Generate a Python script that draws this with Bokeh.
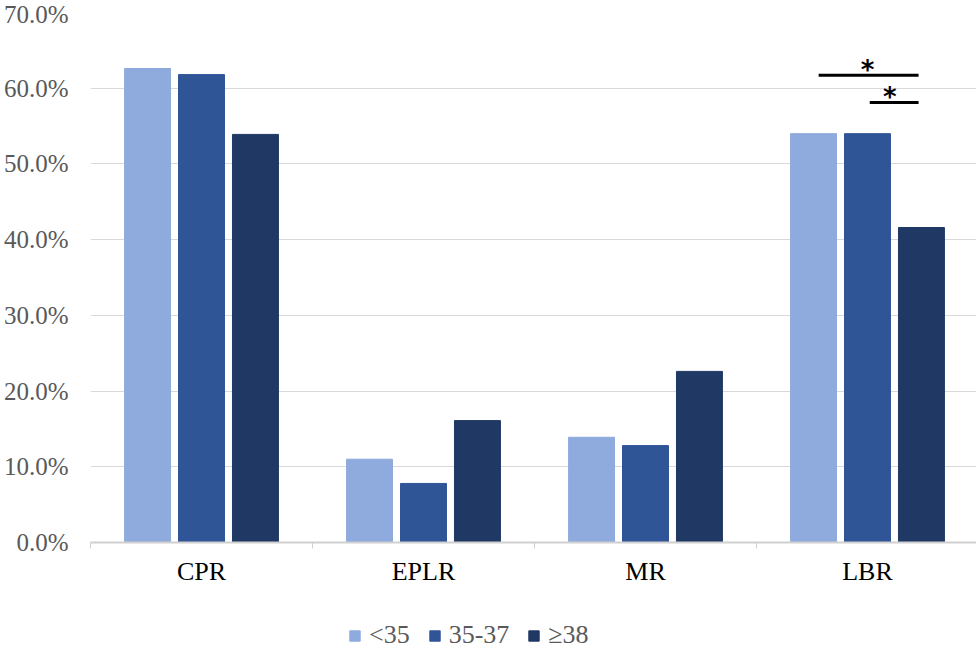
from bokeh.plotting import figure
from bokeh.layouts import column
from bokeh.models import ColumnDataSource, FixedTicker, PrintfTickFormatter, Legend, LegendItem, Range1d
from bokeh.transform import dodge
from bokeh.core.properties import value
from bokeh.embed import file_html
from bokeh.resources import INLINE

# ---- data ----
categories = ["CPR", "EPLR", "MR", "LBR"]
cat_pos = [0.5, 1.5, 2.5, 3.5]
lt35 = [62.6, 11.0, 13.9, 54.0]
age35_37 = [61.8, 7.8, 12.8, 54.0]
ge38 = [53.9, 16.1, 22.6, 41.6]
series_labels = ["<35", "35-37", "\u226538"]
colors = ["#8faadc", "#2f5597", "#1f3864"]
y_ticks = [0, 10, 20, 30, 40, 50, 60, 70]

# significance brackets (LBR)
sig_x0 = [3.28, 3.51]
sig_x1 = [3.73, 3.73]
sig_y = [61.7, 58.1]
star_x = [3.50, 3.60]
star_text = ["*", "*"]

src = ColumnDataSource(dict(x=cat_pos, a=lt35, b=age35_37, c=ge38))

p = figure(width=976, height=610, min_border_left=90, min_border_right=0,
           min_border_top=12, min_border_bottom=68,
           x_range=Range1d(0, 886 / 222), y_range=Range1d(0, 70),
           output_backend="svg", toolbar_location=None)
p.outline_line_color = None
p.background_fill_color = "white"
p.border_fill_color = "white"

off = 0.243
w = 0.207
r1 = p.vbar(x=dodge("x", -off, range=p.x_range), top="a", width=w, source=src, color=colors[0])
r2 = p.vbar(x=dodge("x", 0, range=p.x_range), top="b", width=w, source=src, color=colors[1])
r3 = p.vbar(x=dodge("x", off, range=p.x_range), top="c", width=w, source=src, color=colors[2])

# significance lines and stars
p.segment(x0=sig_x0, x1=sig_x1, y0=sig_y, y1=sig_y, line_color="black", line_width=3)
p.text(x=star_x, y=[v + 0.75 for v in sig_y], text=star_text, text_align="center",
       text_baseline="alphabetic", text_font=value("DejaVu Sans"), text_font_style="bold",
       text_font_size="26px", text_color="black")

# y axis
p.yaxis.ticker = FixedTicker(ticks=y_ticks)
p.yaxis.formatter = PrintfTickFormatter(format="%.1f%%")
p.yaxis.axis_line_color = None
p.yaxis.major_tick_line_color = None
p.yaxis.minor_tick_line_color = None
p.yaxis.major_label_standoff = 16
p.yaxis.major_label_text_font = "Liberation Serif"
p.yaxis.major_label_text_font_size = "25px"
p.yaxis.major_label_text_color = "#595959"

# x axis
p.xaxis.ticker = FixedTicker(ticks=cat_pos, minor_ticks=[0, 1, 2, 3, 4])
p.xaxis.major_label_overrides = {c: n for c, n in zip(cat_pos, categories)}
p.xaxis.axis_line_color = "#d0d0d0"
p.xaxis.axis_line_width = 2
p.xaxis.major_tick_line_color = None
p.xaxis.minor_tick_line_color = "#d0d0d0"
p.xaxis.minor_tick_out = 6
p.xaxis.minor_tick_in = 0
p.xaxis.major_label_standoff = 8
p.xaxis.major_label_text_font = "Liberation Serif"
p.xaxis.major_label_text_font_size = "26px"
p.xaxis.major_label_text_color = "black"

p.xgrid.grid_line_color = None
p.ygrid.grid_line_color = "#d9d9d9"
p.ygrid.grid_line_width = 1

# legend strip (separate figure below the chart)
lg = figure(width=976, height=41, min_border=0, x_range=Range1d(0, 1), y_range=Range1d(0, 1),
            output_backend="svg", toolbar_location=None)
lg.axis.visible = False
lg.grid.visible = False
lg.outline_line_color = None
lg.background_fill_color = "white"
lg.border_fill_color = "white"
# legend-only renderers, placed outside the visible range
lr = [lg.vbar(x=[0.5], bottom=[-3], top=[-2], width=0.1, color=c) for c in colors]
legend = Legend(items=[LegendItem(label=s, renderers=[r]) for s, r in zip(series_labels, lr)],
                orientation="horizontal", location=(258, 1),
                glyph_width=13, glyph_height=13, label_standoff=8, spacing=18,
                padding=0, margin=0, border_line_color=None, background_fill_alpha=0,
                label_text_font="Liberation Serif", label_text_font_size="26px",
                label_text_color="#595959")
lg.add_layout(legend, "center")

layout = column(p, lg, spacing=0)
open("out.html", "w").write(file_html(layout, INLINE))
